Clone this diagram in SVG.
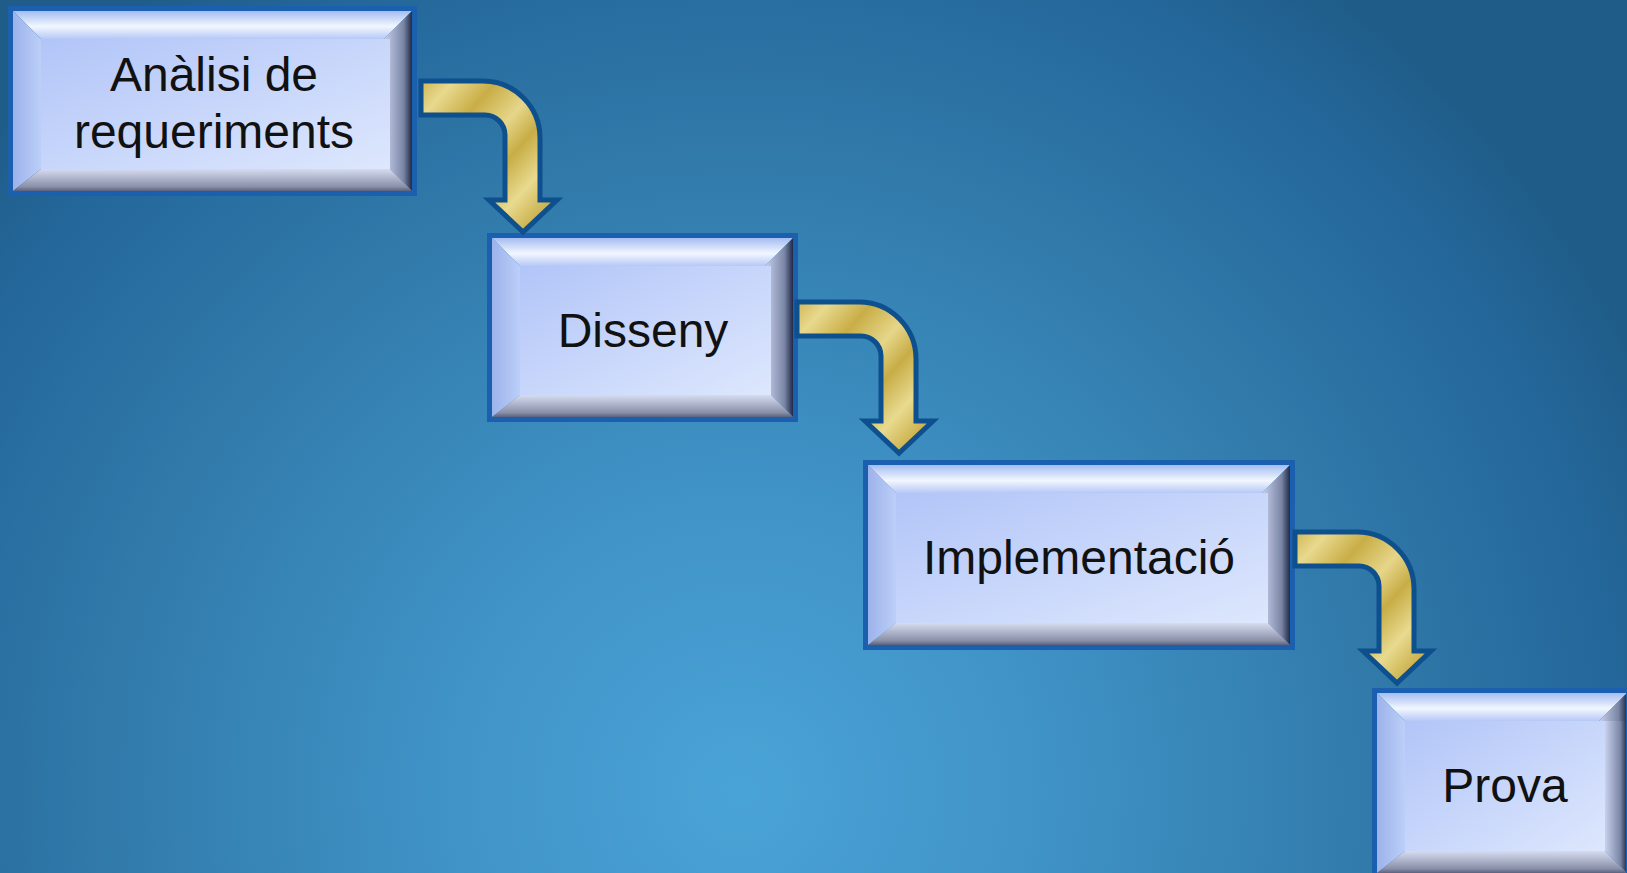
<svg xmlns="http://www.w3.org/2000/svg" width="1627" height="873" viewBox="0 0 1627 873">
<defs>
<radialGradient id="bg" gradientUnits="userSpaceOnUse" cx="740" cy="790" r="1000">
<stop offset="0" stop-color="#4aa3d6"/>
<stop offset="0.3" stop-color="#4093c7"/>
<stop offset="0.65" stop-color="#3079a9"/>
<stop offset="0.88" stop-color="#24679a"/>
<stop offset="1" stop-color="#1f5c88"/>
</radialGradient>
<linearGradient id="face" x1="0" y1="0" x2="1" y2="1">
<stop offset="0" stop-color="#b2c5f8"/>
<stop offset="1" stop-color="#dde7fd"/>
</linearGradient>
<linearGradient id="bt" x1="0" y1="0" x2="0" y2="1">
<stop offset="0" stop-color="#a4bcf2"/>
<stop offset="0.55" stop-color="#f2f7ff"/>
<stop offset="1" stop-color="#b6c8f6"/>
</linearGradient>
<linearGradient id="bl" x1="0" y1="0" x2="1" y2="0">
<stop offset="0" stop-color="#9cb2ea"/>
<stop offset="1" stop-color="#bccff9"/>
</linearGradient>
<linearGradient id="br" x1="0" y1="0" x2="1" y2="0">
<stop offset="0" stop-color="#c8d2ee"/>
<stop offset="0.7" stop-color="#7a84a4"/>
<stop offset="1" stop-color="#1e2a48"/>
</linearGradient>
<linearGradient id="bb" x1="0" y1="0" x2="0" y2="1">
<stop offset="0" stop-color="#d6dcf0"/>
<stop offset="0.8" stop-color="#8a90a8"/>
<stop offset="1" stop-color="#5a6280"/>
</linearGradient>
<linearGradient id="gold" x1="0" y1="0" x2="1" y2="1">
<stop offset="0" stop-color="#d0b655"/>
<stop offset="0.12" stop-color="#e8d98e"/>
<stop offset="0.28" stop-color="#c9ae47"/>
<stop offset="0.45" stop-color="#e6d68a"/>
<stop offset="0.58" stop-color="#c8ad46"/>
<stop offset="0.74" stop-color="#e8da8f"/>
<stop offset="0.88" stop-color="#ccb24e"/>
<stop offset="1" stop-color="#e4d386"/>
</linearGradient>
<path id="arr" d="M0,0 H62 A57,57 0 0 1 119,57 V119 H136 L102,151 L68,119 H84 V54 A20,20 0 0 0 64,34 H0 Z"/>
</defs>
<style>
.border{fill:none;stroke:#1a60ae;stroke-width:5}
.lbl{font-family:"Liberation Sans",Arial,sans-serif;font-size:48px;fill:#111;text-anchor:middle}
.arrow{fill:url(#gold);stroke:#0e4f8e;stroke-width:5;stroke-linejoin:miter}
</style>
<rect width="1627" height="873" fill="url(#bg)"/>

<g id="node-analisi">
<polygon points="13,11 412,11 384,39 41,39" fill="url(#bt)"/>
<polygon points="13,11 41,39 41,169 13,191" fill="url(#bl)"/>
<polygon points="412,11 412,191 390,169 384,39" fill="url(#br)"/>
<polygon points="13,191 41,169 390,169 412,191" fill="url(#bb)"/>
<rect x="41" y="39" width="349" height="130" fill="url(#face)"/>
<rect class="border" x="10.5" y="8.5" width="404" height="185"/>
<text class="lbl" x="214" y="91">Anàlisi de</text>
<text class="lbl" x="214" y="148">requeriments</text>
</g>

<g id="node-disseny">
<polygon points="492,238 793,238 765,266 520,266" fill="url(#bt)"/>
<polygon points="492,238 520,266 520,395 492,417" fill="url(#bl)"/>
<polygon points="793,238 793,417 771,395 765,266" fill="url(#br)"/>
<polygon points="492,417 520,395 771,395 793,417" fill="url(#bb)"/>
<rect x="520" y="266" width="251" height="129" fill="url(#face)"/>
<rect class="border" x="489.5" y="235.5" width="306" height="184"/>
<text class="lbl" x="643" y="347">Disseny</text>
</g>

<g id="node-implementacio">
<polygon points="868,465 1290,465 1262,493 896,493" fill="url(#bt)"/>
<polygon points="868,465 896,493 896,623 868,645" fill="url(#bl)"/>
<polygon points="1290,465 1290,645 1268,623 1262,493" fill="url(#br)"/>
<polygon points="868,645 896,623 1268,623 1290,645" fill="url(#bb)"/>
<rect x="896" y="493" width="372" height="130" fill="url(#face)"/>
<rect class="border" x="865.5" y="462.5" width="427" height="185"/>
<text class="lbl" x="1079" y="574">Implementació</text>
</g>

<g id="node-prova">
<polygon points="1377,693 1627,693 1599,721 1405,721" fill="url(#bt)"/>
<polygon points="1377,693 1405,721 1405,851 1377,873" fill="url(#bl)"/>
<polygon points="1627,693 1627,721 1605,721 1599,721" fill="url(#br)"/>
<polygon points="1605,721 1627,721 1627,873 1605,851" fill="url(#br)"/>
<polygon points="1377,873 1405,851 1605,851 1627,873" fill="url(#bb)"/>
<rect x="1405" y="721" width="200" height="130" fill="url(#face)"/>
<rect class="border" x="1374.5" y="690.5" width="254" height="185"/>
<text class="lbl" x="1505" y="802">Prova</text>
</g>

<g id="connectors">
<use href="#arr" class="arrow" transform="translate(421,81)"/>
<use href="#arr" class="arrow" transform="translate(797,302)"/>
<use href="#arr" class="arrow" transform="translate(1295,532)"/>
</g>
</svg>
